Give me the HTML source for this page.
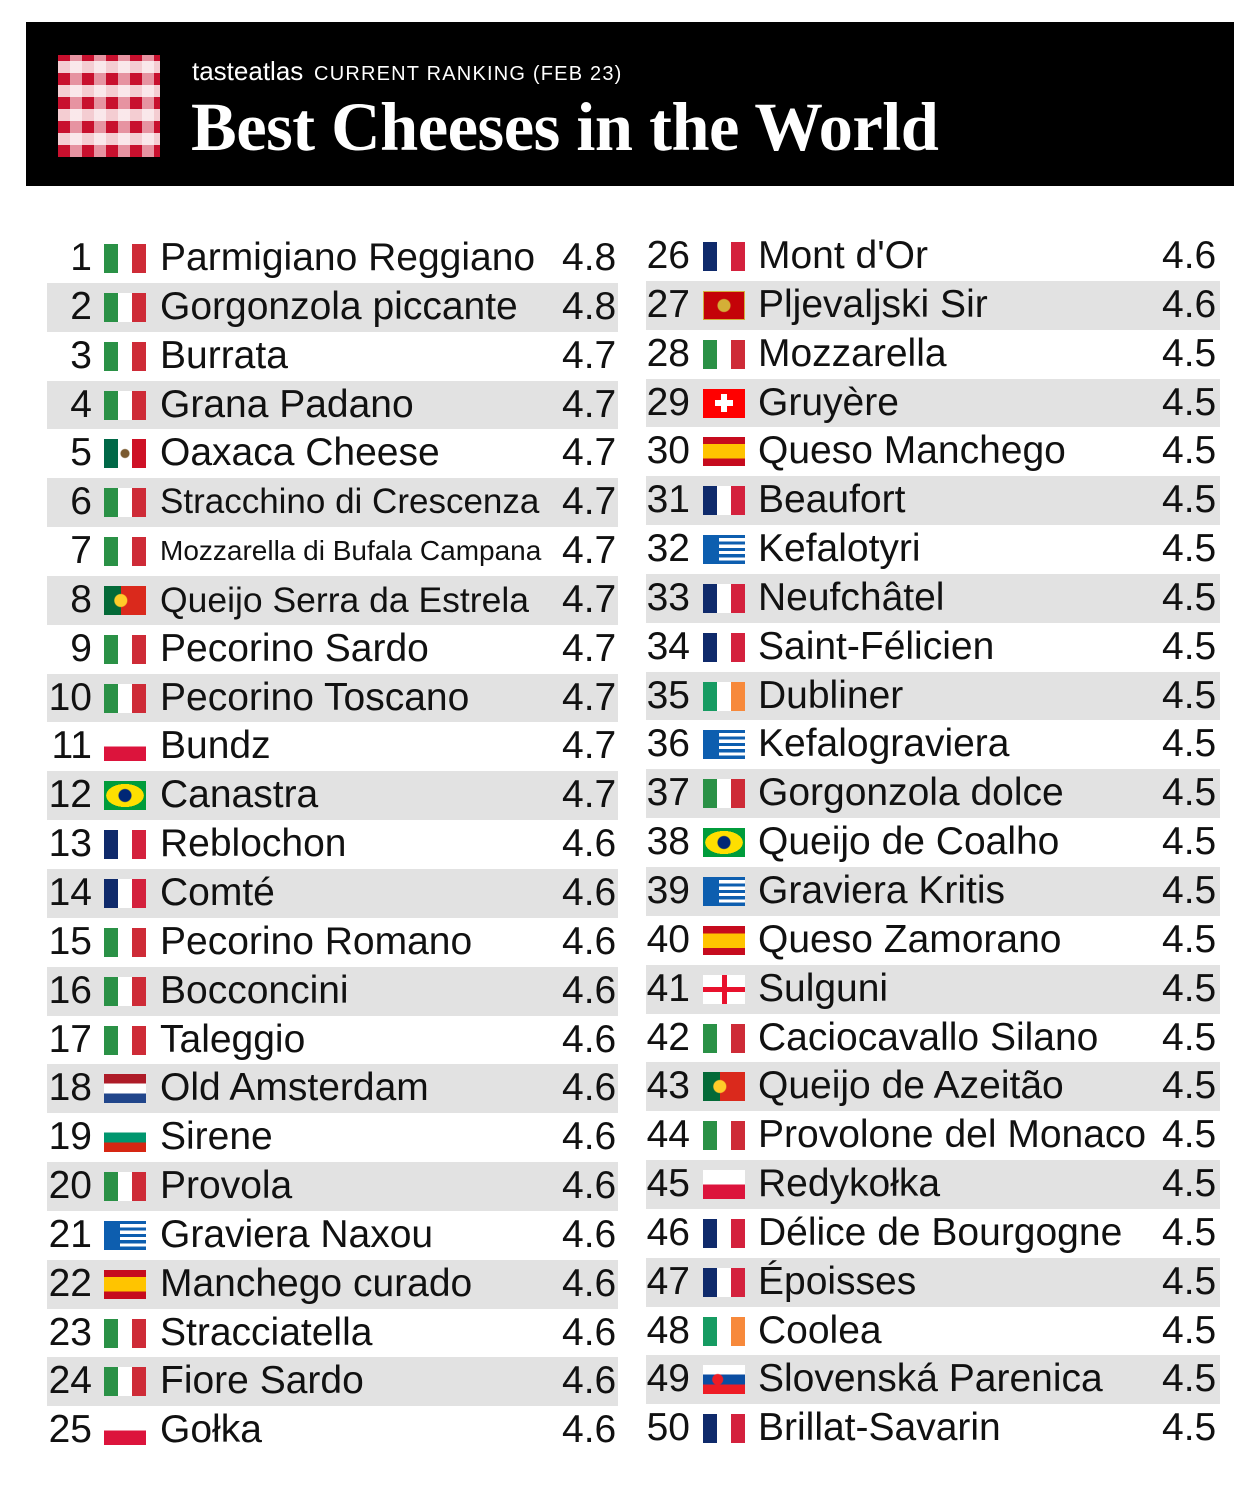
<!DOCTYPE html>
<html><head><meta charset="utf-8"><style>
*{margin:0;padding:0;box-sizing:border-box}
body{width:1260px;height:1500px;background:#fff;position:relative;overflow:hidden;font-family:"Liberation Sans",Arial,sans-serif;color:#111}
.hdr{position:absolute;left:26px;top:22px;width:1208px;height:164px;background:#000}
.chk{position:absolute;left:32px;top:33px;width:102px;height:102px;
background:
repeating-linear-gradient(90deg,rgba(255,255,255,0) 0 12px,rgba(255,255,255,.55) 12px 24px),
repeating-linear-gradient(0deg,#c8102e 0 12px,#f4cdd2 12px 24px);}
.sub{position:absolute;left:166px;top:34px;color:#fff;font-size:20px;letter-spacing:1.2px;white-space:nowrap}
.sub b{font-weight:normal;font-size:26px;letter-spacing:0;margin-right:4px}
.ttl{position:absolute;left:165px;top:66px;color:#fff;font-family:"Liberation Serif",serif;font-weight:bold;font-size:68.5px;white-space:nowrap;letter-spacing:-0.5px}
.col{position:absolute;top:234px}
.r{height:48.85px;position:relative;font-size:39px;line-height:48.85px;white-space:nowrap}
.r.s{background:#e2e2e2}
.n{position:absolute;right:0;text-align:right}
.L .n{left:0;width:45px}
.R .n{left:0;width:44px}
.f{position:absolute;top:10px;width:42px;height:29px}
.L .f{left:57px}.R .f{left:57px}
.nm{position:absolute}
.L .nm{left:113px}.R .nm{left:112px}
.sc{position:absolute}
.L .sc{left:515px}.R .sc{left:516px}
.it{background:linear-gradient(90deg,#2a9146 0 33%,#fff 33% 67%,#ce2b37 67%)}
.fr{background:linear-gradient(90deg,#0f2a6b 0 33%,#fff 33% 67%,#d4213d 67%)}
.ie{background:linear-gradient(90deg,#169b62 0 33%,#fff 33% 67%,#f7893b 67%)}
.mx{background:radial-gradient(circle at 50% 50%,#7a5a30 0 4px,transparent 5px),linear-gradient(90deg,#006847 0 33%,#fff 33% 67%,#ce1126 67%)}
.pl{background:linear-gradient(#fff 0 50%,#dc143c 50%)}
.nl{background:linear-gradient(#ae1c28 0 33%,#fff 33% 67%,#21468b 67%)}
.bg{background:linear-gradient(#fff 0 33%,#00966e 33% 67%,#d62612 67%)}
.es{background:linear-gradient(#c60b1e 0 25%,#ffc400 25% 75%,#c60b1e 75%)}
.sk{background:radial-gradient(circle at 35% 50%,#ee1c25 0 5px,transparent 6px),linear-gradient(#fff 0 33%,#0b4ea2 33% 67%,#ee1c25 67%)}
.gr{background:linear-gradient(90deg,#0d5eaf 0 16px,transparent 16px),repeating-linear-gradient(#0d5eaf 0 3.2px,#fff 3.2px 6.4px)}
.br{background:radial-gradient(circle,#002776 0 6px,transparent 7px),radial-gradient(ellipse 45% 40%,#fedf00 0 99%,transparent 100%),#009c3b}
.pt{background:radial-gradient(circle at 40% 50%,#ffcc29 0 6px,transparent 7px),linear-gradient(90deg,#046a38 0 40%,#da291c 40%)}
.ch{background:linear-gradient(#fff,#fff) center/6px 18px no-repeat,linear-gradient(#fff,#fff) center/18px 6px no-repeat,#ff0000}
.ge{background:linear-gradient(#e8112d,#e8112d) center/42px 5px no-repeat,linear-gradient(#e8112d,#e8112d) center/5px 29px no-repeat,#fff}
.me{background:radial-gradient(circle,#d4af37 0 6px,transparent 7px),#c40308;border:1px solid #d3ae3b}
</style></head><body>
<div class="hdr"><div class="chk"></div>
<div class="sub"><b>tasteatlas</b> CURRENT RANKING (FEB 23)</div>
<div class="ttl">Best Cheeses in the World</div></div>

<div class="col L" style="left:47px;width:571px">
<div class="r"><span class="n">1</span><span class="f it"></span><span class="nm">Parmigiano Reggiano</span><span class="sc">4.8</span></div>
<div class="r s"><span class="n">2</span><span class="f it"></span><span class="nm">Gorgonzola piccante</span><span class="sc">4.8</span></div>
<div class="r"><span class="n">3</span><span class="f it"></span><span class="nm">Burrata</span><span class="sc">4.7</span></div>
<div class="r s"><span class="n">4</span><span class="f it"></span><span class="nm">Grana Padano</span><span class="sc">4.7</span></div>
<div class="r"><span class="n">5</span><span class="f mx"></span><span class="nm">Oaxaca Cheese</span><span class="sc">4.7</span></div>
<div class="r s"><span class="n">6</span><span class="f it"></span><span class="nm" style="font-size:35px">Stracchino di Crescenza</span><span class="sc">4.7</span></div>
<div class="r"><span class="n">7</span><span class="f it"></span><span class="nm" style="font-size:28px">Mozzarella di Bufala Campana</span><span class="sc">4.7</span></div>
<div class="r s"><span class="n">8</span><span class="f pt"></span><span class="nm" style="font-size:35.5px">Queijo Serra da Estrela</span><span class="sc">4.7</span></div>
<div class="r"><span class="n">9</span><span class="f it"></span><span class="nm">Pecorino Sardo</span><span class="sc">4.7</span></div>
<div class="r s"><span class="n">10</span><span class="f it"></span><span class="nm">Pecorino Toscano</span><span class="sc">4.7</span></div>
<div class="r"><span class="n">11</span><span class="f pl"></span><span class="nm">Bundz</span><span class="sc">4.7</span></div>
<div class="r s"><span class="n">12</span><span class="f br"></span><span class="nm">Canastra</span><span class="sc">4.7</span></div>
<div class="r"><span class="n">13</span><span class="f fr"></span><span class="nm">Reblochon</span><span class="sc">4.6</span></div>
<div class="r s"><span class="n">14</span><span class="f fr"></span><span class="nm">Comté</span><span class="sc">4.6</span></div>
<div class="r"><span class="n">15</span><span class="f it"></span><span class="nm">Pecorino Romano</span><span class="sc">4.6</span></div>
<div class="r s"><span class="n">16</span><span class="f it"></span><span class="nm">Bocconcini</span><span class="sc">4.6</span></div>
<div class="r"><span class="n">17</span><span class="f it"></span><span class="nm">Taleggio</span><span class="sc">4.6</span></div>
<div class="r s"><span class="n">18</span><span class="f nl"></span><span class="nm">Old Amsterdam</span><span class="sc">4.6</span></div>
<div class="r"><span class="n">19</span><span class="f bg"></span><span class="nm">Sirene</span><span class="sc">4.6</span></div>
<div class="r s"><span class="n">20</span><span class="f it"></span><span class="nm">Provola</span><span class="sc">4.6</span></div>
<div class="r"><span class="n">21</span><span class="f gr"></span><span class="nm">Graviera Naxou</span><span class="sc">4.6</span></div>
<div class="r s"><span class="n">22</span><span class="f es"></span><span class="nm">Manchego curado</span><span class="sc">4.6</span></div>
<div class="r"><span class="n">23</span><span class="f it"></span><span class="nm">Stracciatella</span><span class="sc">4.6</span></div>
<div class="r s"><span class="n">24</span><span class="f it"></span><span class="nm">Fiore Sardo</span><span class="sc">4.6</span></div>
<div class="r"><span class="n">25</span><span class="f pl"></span><span class="nm">Gołka</span><span class="sc">4.6</span></div>
</div>

<div class="col R" style="left:646px;width:574px;top:232px">
<div class="r"><span class="n">26</span><span class="f fr"></span><span class="nm">Mont d'Or</span><span class="sc">4.6</span></div>
<div class="r s"><span class="n">27</span><span class="f me"></span><span class="nm">Pljevaljski Sir</span><span class="sc">4.6</span></div>
<div class="r"><span class="n">28</span><span class="f it"></span><span class="nm">Mozzarella</span><span class="sc">4.5</span></div>
<div class="r s"><span class="n">29</span><span class="f ch"></span><span class="nm">Gruyère</span><span class="sc">4.5</span></div>
<div class="r"><span class="n">30</span><span class="f es"></span><span class="nm">Queso Manchego</span><span class="sc">4.5</span></div>
<div class="r s"><span class="n">31</span><span class="f fr"></span><span class="nm">Beaufort</span><span class="sc">4.5</span></div>
<div class="r"><span class="n">32</span><span class="f gr"></span><span class="nm">Kefalotyri</span><span class="sc">4.5</span></div>
<div class="r s"><span class="n">33</span><span class="f fr"></span><span class="nm">Neufchâtel</span><span class="sc">4.5</span></div>
<div class="r"><span class="n">34</span><span class="f fr"></span><span class="nm">Saint-Félicien</span><span class="sc">4.5</span></div>
<div class="r s"><span class="n">35</span><span class="f ie"></span><span class="nm">Dubliner</span><span class="sc">4.5</span></div>
<div class="r"><span class="n">36</span><span class="f gr"></span><span class="nm">Kefalograviera</span><span class="sc">4.5</span></div>
<div class="r s"><span class="n">37</span><span class="f it"></span><span class="nm">Gorgonzola dolce</span><span class="sc">4.5</span></div>
<div class="r"><span class="n">38</span><span class="f br"></span><span class="nm">Queijo de Coalho</span><span class="sc">4.5</span></div>
<div class="r s"><span class="n">39</span><span class="f gr"></span><span class="nm">Graviera Kritis</span><span class="sc">4.5</span></div>
<div class="r"><span class="n">40</span><span class="f es"></span><span class="nm">Queso Zamorano</span><span class="sc">4.5</span></div>
<div class="r s"><span class="n">41</span><span class="f ge"></span><span class="nm">Sulguni</span><span class="sc">4.5</span></div>
<div class="r"><span class="n">42</span><span class="f it"></span><span class="nm">Caciocavallo Silano</span><span class="sc">4.5</span></div>
<div class="r s"><span class="n">43</span><span class="f pt"></span><span class="nm">Queijo de Azeitão</span><span class="sc">4.5</span></div>
<div class="r"><span class="n">44</span><span class="f it"></span><span class="nm">Provolone del Monaco</span><span class="sc">4.5</span></div>
<div class="r s"><span class="n">45</span><span class="f pl"></span><span class="nm">Redykołka</span><span class="sc">4.5</span></div>
<div class="r"><span class="n">46</span><span class="f fr"></span><span class="nm">Délice de Bourgogne</span><span class="sc">4.5</span></div>
<div class="r s"><span class="n">47</span><span class="f fr"></span><span class="nm">Époisses</span><span class="sc">4.5</span></div>
<div class="r"><span class="n">48</span><span class="f ie"></span><span class="nm">Coolea</span><span class="sc">4.5</span></div>
<div class="r s"><span class="n">49</span><span class="f sk"></span><span class="nm">Slovenská Parenica</span><span class="sc">4.5</span></div>
<div class="r"><span class="n">50</span><span class="f fr"></span><span class="nm">Brillat-Savarin</span><span class="sc">4.5</span></div>
</div>
</body></html>
